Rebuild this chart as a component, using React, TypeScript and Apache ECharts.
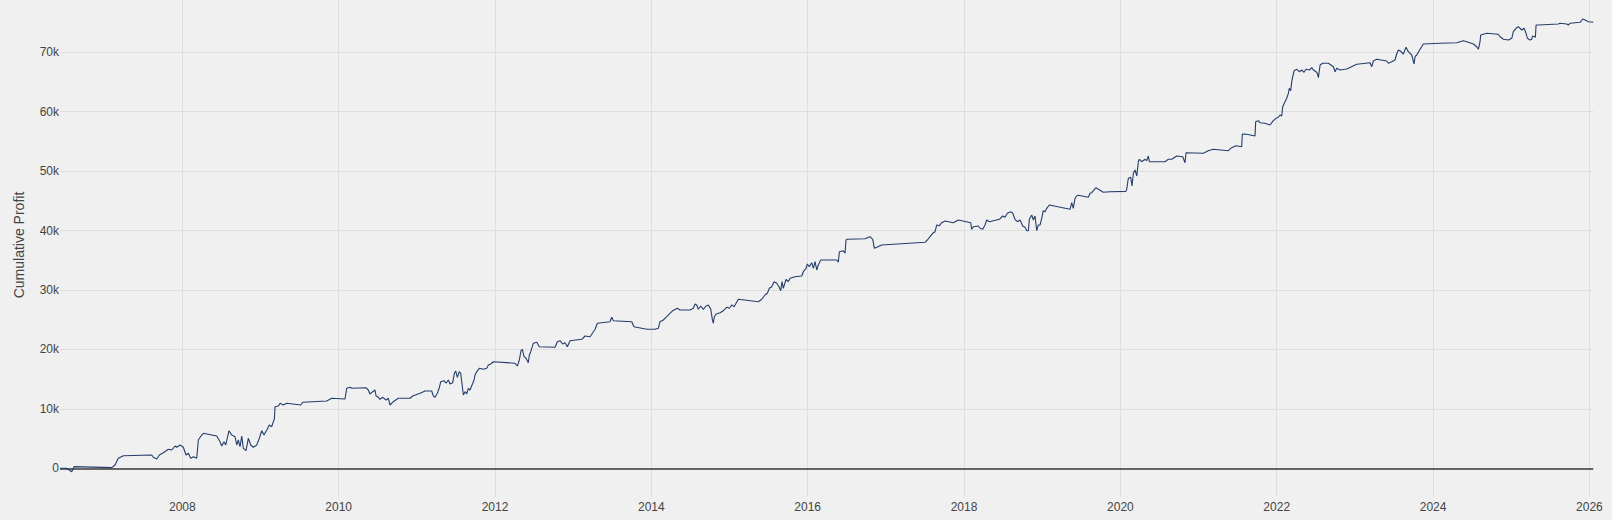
import React, { useEffect, useRef } from "react";
import * as echarts from "echarts";

// Decimal-year positions of each reading and the cumulative profit at it
const years: number[] = [
  2006.435, 2006.52, 2006.585, 2006.615, 2006.85, 2007.097, 2007.139, 2007.181, 2007.245, 2007.609,
  2007.629, 2007.672, 2007.706, 2007.757, 2007.821, 2007.864, 2007.907, 2007.928, 2007.971, 2008.013,
  2008.047, 2008.077, 2008.107, 2008.141, 2008.184, 2008.205, 2008.248, 2008.269, 2008.44, 2008.482,
  2008.504, 2008.533, 2008.555, 2008.597, 2008.632, 2008.674, 2008.696, 2008.716, 2008.738, 2008.76,
  2008.78, 2008.815, 2008.844, 2008.875, 2008.908, 2008.952, 2008.985, 2009.016, 2009.045, 2009.08,
  2009.113, 2009.144, 2009.164, 2009.177, 2009.186, 2009.228, 2009.25, 2009.292, 2009.336, 2009.515,
  2009.54, 2009.847, 2009.911, 2010.081, 2010.103, 2010.145, 2010.167, 2010.35, 2010.379, 2010.401,
  2010.436, 2010.465, 2010.478, 2010.507, 2010.529, 2010.564, 2010.606, 2010.635, 2010.657, 2010.699,
  2010.763, 2010.913, 2010.947, 2011.041, 2011.105, 2011.19, 2011.211, 2011.233, 2011.262, 2011.288,
  2011.306, 2011.348, 2011.373, 2011.403, 2011.425, 2011.459, 2011.48, 2011.497, 2011.518, 2011.543,
  2011.561, 2011.595, 2011.617, 2011.638, 2011.659, 2011.68, 2011.715, 2011.732, 2011.744, 2011.766,
  2011.799, 2011.851, 2011.894, 2011.915, 2011.945, 2011.979, 2012.256, 2012.286, 2012.311, 2012.333,
  2012.35, 2012.371, 2012.397, 2012.426, 2012.439, 2012.457, 2012.49, 2012.534, 2012.567, 2012.768,
  2012.797, 2012.832, 2012.866, 2012.896, 2012.925, 2012.96, 2013.109, 2013.152, 2013.216, 2013.28,
  2013.309, 2013.471, 2013.493, 2013.514, 2013.749, 2013.778, 2013.941, 2014.047, 2014.089, 2014.111,
  2014.153, 2014.197, 2014.239, 2014.273, 2014.332, 2014.367, 2014.495, 2014.537, 2014.559, 2014.58,
  2014.601, 2014.632, 2014.665, 2014.7, 2014.729, 2014.76, 2014.78, 2014.793, 2014.806, 2014.827,
  2014.879, 2014.921, 2014.964, 2014.998, 2015.028, 2015.058, 2015.113, 2015.369, 2015.412, 2015.454,
  2015.484, 2015.509, 2015.54, 2015.569, 2015.604, 2015.633, 2015.655, 2015.672, 2015.688, 2015.723,
  2015.752, 2015.774, 2015.838, 2015.924, 2015.944, 2015.979, 2015.996, 2016.021, 2016.052, 2016.072,
  2016.094, 2016.116, 2016.136, 2016.167, 2016.371, 2016.392, 2016.405, 2016.456, 2016.478, 2016.49,
  2016.507, 2016.733, 2016.797, 2016.832, 2016.853, 2016.883, 2016.947, 2017.501, 2017.531, 2017.565,
  2017.6, 2017.629, 2017.651, 2017.684, 2017.714, 2017.757, 2017.863, 2017.927, 2018.086, 2018.098,
  2018.119, 2018.183, 2018.205, 2018.239, 2018.268, 2018.29, 2018.324, 2018.452, 2018.495, 2018.524,
  2018.554, 2018.598, 2018.623, 2018.652, 2018.682, 2018.717, 2018.751, 2018.78, 2018.802, 2018.823,
  2018.836, 2018.866, 2018.887, 2018.908, 2018.93, 2018.95, 2018.972, 2018.994, 2019.014, 2019.036,
  2019.058, 2019.091, 2019.356, 2019.378, 2019.398, 2019.42, 2019.442, 2019.462, 2019.59, 2019.612,
  2019.633, 2019.688, 2019.718, 2019.782, 2019.868, 2020.07, 2020.081, 2020.102, 2020.132, 2020.149,
  2020.166, 2020.188, 2020.21, 2020.23, 2020.243, 2020.273, 2020.316, 2020.337, 2020.358, 2020.371,
  2020.571, 2020.614, 2020.657, 2020.721, 2020.798, 2020.827, 2020.84, 2021.061, 2021.125, 2021.189,
  2021.381, 2021.424, 2021.479, 2021.552, 2021.56, 2021.616, 2021.722, 2021.731, 2021.765, 2021.786,
  2021.85, 2021.914, 2021.957, 2021.991, 2022.021, 2022.042, 2022.064, 2022.077, 2022.106, 2022.128,
  2022.149, 2022.161, 2022.179, 2022.192, 2022.205, 2022.222, 2022.256, 2022.289, 2022.32, 2022.35,
  2022.375, 2022.418, 2022.448, 2022.469, 2022.503, 2022.52, 2022.533, 2022.555, 2022.589, 2022.661,
  2022.725, 2022.747, 2022.768, 2022.81, 2022.896, 2023.024, 2023.194, 2023.216, 2023.236, 2023.279,
  2023.407, 2023.428, 2023.471, 2023.513, 2023.535, 2023.556, 2023.577, 2023.62, 2023.654, 2023.684,
  2023.727, 2023.757, 2023.77, 2023.791, 2023.834, 2023.876, 2024.089, 2024.303, 2024.388, 2024.431,
  2024.516, 2024.559, 2024.58, 2024.601, 2024.61, 2024.687, 2024.835, 2024.857, 2024.9, 2024.964,
  2025.007, 2025.027, 2025.062, 2025.091, 2025.135, 2025.164, 2025.19, 2025.207, 2025.241, 2025.263,
  2025.271, 2025.296, 2025.309, 2025.318, 2025.348, 2025.603, 2025.625, 2025.711, 2025.731, 2025.753,
  2025.881, 2025.915, 2025.945, 2025.987, 2026.05,
];

const profit: number[] = [
  0, 0, -570, 280, 200, 120, 555, 1680, 2120, 2240,
  1850, 1565, 2240, 2625, 3200, 3080, 3750, 3535, 3920, 3535,
  2240, 2525, 1685, 1950, 1685, 4760, 5600, 5890, 5435, 4475,
  3750, 4475, 3920, 6330, 5600, 5320, 3920, 4760, 3635, 5435,
  3365, 2960, 5050, 3920, 3535, 3920, 5050, 6330, 5600, 6445,
  7285, 7000, 7840, 8245, 10365, 10485, 10940, 10650, 10940, 10650,
  11105, 11325, 11780, 11660, 13460, 13630, 13460, 13560, 13175, 12500,
  12890, 13175, 12165, 11945, 11610, 11945, 11495, 11780, 10650, 11205,
  11780, 11780, 12165, 12620, 13005, 13005, 12165, 11945, 12620, 13560,
  14570, 14740, 14305, 14860, 14185, 14405, 15985, 16375, 15315, 16255,
  15985, 12335, 12890, 12500, 13460, 13175, 14305, 14860, 15700, 16255,
  16825, 16660, 16825, 17380, 17550, 17935, 17670, 17215, 18225, 19790,
  20025, 18780, 18510, 17770, 19065, 19620, 21035, 21200, 20460, 20360,
  21305, 21470, 20915, 21135, 20460, 21470, 21705, 22260, 22145, 23390,
  24400, 24670, 25410, 24835, 24670, 23825, 23390, 23390, 23560, 24670,
  24955, 25510, 26080, 26520, 26925, 26635, 26635, 26925, 27645, 27480,
  26755, 27310, 26755, 27310, 27480, 26755, 25070, 24400, 25510, 25965,
  26185, 26520, 27090, 26925, 27480, 27195, 28440, 28035, 28440, 29160,
  29445, 30290, 30560, 31400, 31130, 30560, 29885, 31400, 30290, 31805,
  31400, 31970, 32240, 32360, 33080, 33655, 34375, 33925, 34595, 33655,
  34765, 33370, 34210, 35050, 35050, 34665, 36450, 36615, 36180, 38415,
  38535, 38635, 38970, 38535, 37020, 37190, 37575, 38030, 38415, 38970,
  39545, 39810, 40940, 40820, 41325, 41615, 41325, 41780, 41325, 40215,
  40655, 40770, 40385, 40215, 40940, 41780, 41495, 41900, 42455, 42235,
  42910, 43180, 42910, 41900, 41495, 41780, 40770, 40555, 39980, 39980,
  41900, 42625, 41780, 42455, 39980, 40940, 40940, 42070, 43345, 43180,
  43750, 44305, 43580, 44695, 43750, 45435, 45820, 45940, 45600, 46275,
  46375, 47215, 46945, 46440, 46545, 46600, 46945, 48800, 48965, 47505,
  49640, 50195, 49185, 51590, 51995, 51590, 51995, 51760, 52550, 51590,
  51590, 51995, 51995, 52550, 52435, 51425, 53105, 53005, 53445, 53680,
  53445, 53945, 54285, 54115, 56255, 56200, 55915, 58320, 58490, 58155,
  58055, 57765, 58490, 58895, 59065, 59450, 59280, 60845, 61690, 62260,
  63100, 63945, 63540, 65055, 65895, 66905, 67140, 66735, 67020, 66635,
  67140, 67020, 67410, 67020, 66735, 66470, 65725, 67865, 68150, 68150,
  67575, 66735, 67310, 67020, 67190, 67980, 68250, 67575, 68535, 68820,
  68535, 68150, 68420, 68705, 69715, 70385, 70270, 69715, 70840, 70100,
  69545, 68030, 69260, 69545, 70505, 71395, 71515, 71615, 71955, 71785,
  71395, 70940, 70505, 71785, 72910, 73195, 73030, 72625, 72190, 72070,
  72355, 73465, 74040, 74310, 73750, 74040, 73195, 72355, 72070, 72190,
  72745, 72625, 72525, 74595, 74595, 74765, 74880, 74765, 74595, 74880,
  75050, 75605, 75435, 75150, 75050,
];

const xMin = 2006.435;
const xMax = 2026.05;
const yMin = -4780;
const yMax = 78800;
const yTickStep = 10000;
const xTickStep = 2;
const yTitle = "Cumulative Profit";

const FONT = "'Liberation Sans', Arial, sans-serif";

export default function App() {
  const ref = useRef<HTMLDivElement>(null);

  useEffect(() => {
    if (!ref.current) return;
    const chart = echarts.init(ref.current, null, { renderer: "svg" });
    const seriesData = years.map((y, i) => [y, profit[i]]);
    chart.setOption({
      animation: false,
      backgroundColor: "#f0f0f0",
      grid: { left: 60, right: 18.7, top: 0, bottom: 23.3, containLabel: false },
      xAxis: {
        type: "value",
        min: xMin,
        max: xMax,
        minInterval: xTickStep,
        maxInterval: xTickStep,
        axisLine: { show: false },
        axisTick: { show: false },
        splitLine: {
          show: true,
          showMinLine: false,
          showMaxLine: false,
          lineStyle: { color: "#dedede", width: 1 },
        },
        axisLabel: {
          color: "#444",
          fontSize: 12,
          fontFamily: FONT,
          margin: 4,
          showMinLabel: false,
          showMaxLabel: false,
          formatter: (v: number) => String(Math.round(v)),
        },
      },
      yAxis: {
        type: "value",
        min: yMin,
        max: yMax,
        minInterval: yTickStep,
        maxInterval: yTickStep,
        axisLine: { show: false },
        axisTick: { show: false },
        splitLine: {
          show: true,
          showMinLine: false,
          showMaxLine: false,
          lineStyle: { color: "#dedede", width: 1 },
        },
        axisLabel: {
          color: "#444",
          fontSize: 12,
          fontFamily: FONT,
          margin: 1,
          showMinLabel: false,
          showMaxLabel: false,
          formatter: (v: number) => (v === 0 ? "0" : v / 1000 + "k"),
        },
      },
      graphic: [
        {
          type: "text",
          x: 18.5,
          y: 245,
          rotation: Math.PI / 2,
          style: {
            text: yTitle,
            fill: "#444",
            font: `14px ${FONT}`,
            align: "center",
            verticalAlign: "middle",
          },
        },
      ],
      series: [
        {
          type: "line",
          data: seriesData,
          showSymbol: false,
          symbol: "none",
          lineStyle: { color: "#243d6b", width: 1.1 },
          z: 3,
          markLine: {
            silent: true,
            symbol: "none",
            label: { show: false },
            lineStyle: { color: "#3a3a3a", width: 1.5, type: "solid" },
            data: [{ yAxis: 0 }],
            z: 2,
          },
        },
      ],
    });
    return () => chart.dispose();
  }, []);

  return (
    <div
      ref={ref}
      style={{ position: "fixed", left: 0, top: 0, width: 1612, height: 520 }}
    />
  );
}
